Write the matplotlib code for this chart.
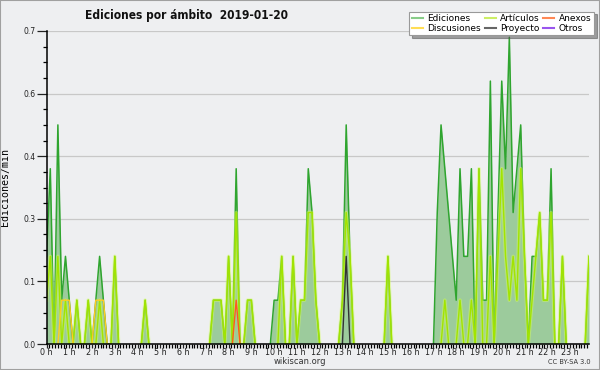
import numpy as np
import matplotlib
matplotlib.use('Agg')
import matplotlib.pyplot as plt
from matplotlib.lines import Line2D
from matplotlib.patches import Rectangle
from matplotlib.ticker import MultipleLocator

# edits per minute, one value per 10 minutes (00:00 .. 23:50), 12 values per row = 2 hours
ediciones = [
    0.2, 0.4, 0.0, 0.5, 0.1, 0.2, 0.1, 0.0, 0.1, 0.0, 0.0, 0.1,
    0.0, 0.1, 0.2, 0.1, 0.0, 0.0, 0.2, 0.0, 0.0, 0.0, 0.0, 0.0,
    0.0, 0.0, 0.1, 0.0, 0.0, 0.0, 0.0, 0.0, 0.0, 0.0, 0.0, 0.0,
    0.0, 0.0, 0.0, 0.0, 0.0, 0.0, 0.0, 0.0, 0.1, 0.1, 0.1, 0.0,
    0.2, 0.0, 0.4, 0.0, 0.0, 0.1, 0.1, 0.0, 0.0, 0.0, 0.0, 0.0,
    0.1, 0.1, 0.2, 0.0, 0.0, 0.2, 0.0, 0.1, 0.1, 0.4, 0.3, 0.1,
    0.0, 0.0, 0.0, 0.0, 0.0, 0.0, 0.1, 0.5, 0.2, 0.0, 0.0, 0.0,
    0.0, 0.0, 0.0, 0.0, 0.0, 0.0, 0.2, 0.0, 0.0, 0.0, 0.0, 0.0,
    0.0, 0.0, 0.0, 0.0, 0.0, 0.0, 0.0, 0.3, 0.5, 0.4, 0.3, 0.2,
    0.1, 0.4, 0.2, 0.2, 0.4, 0.0, 0.4, 0.1, 0.1, 0.6, 0.0, 0.3,
    0.6, 0.4, 0.7, 0.3, 0.4, 0.5, 0.2, 0.0, 0.2, 0.2, 0.3, 0.1,
    0.1, 0.4, 0.0, 0.0, 0.2, 0.0, 0.0, 0.0, 0.0, 0.0, 0.0, 0.2,
]
articulos = [
    0.1, 0.2, 0.0, 0.2, 0.0, 0.1, 0.0, 0.0, 0.1, 0.0, 0.0, 0.1,
    0.0, 0.0, 0.1, 0.0, 0.0, 0.0, 0.2, 0.0, 0.0, 0.0, 0.0, 0.0,
    0.0, 0.0, 0.1, 0.0, 0.0, 0.0, 0.0, 0.0, 0.0, 0.0, 0.0, 0.0,
    0.0, 0.0, 0.0, 0.0, 0.0, 0.0, 0.0, 0.0, 0.1, 0.1, 0.1, 0.0,
    0.2, 0.0, 0.3, 0.0, 0.0, 0.1, 0.1, 0.0, 0.0, 0.0, 0.0, 0.0,
    0.0, 0.0, 0.2, 0.0, 0.0, 0.2, 0.0, 0.1, 0.1, 0.3, 0.3, 0.1,
    0.0, 0.0, 0.0, 0.0, 0.0, 0.0, 0.1, 0.3, 0.2, 0.0, 0.0, 0.0,
    0.0, 0.0, 0.0, 0.0, 0.0, 0.0, 0.2, 0.0, 0.0, 0.0, 0.0, 0.0,
    0.0, 0.0, 0.0, 0.0, 0.0, 0.0, 0.0, 0.0, 0.0, 0.1, 0.0, 0.0,
    0.0, 0.1, 0.0, 0.0, 0.1, 0.0, 0.4, 0.0, 0.0, 0.2, 0.0, 0.2,
    0.4, 0.2, 0.1, 0.2, 0.1, 0.4, 0.2, 0.0, 0.1, 0.2, 0.3, 0.1,
    0.1, 0.3, 0.0, 0.0, 0.2, 0.0, 0.0, 0.0, 0.0, 0.0, 0.0, 0.2,
]
discusiones = [0.0] * 144
anexos = [0.0] * 144
proyecto = [0.0] * 144
otros = [0.0] * 144
# the few non-zero bins of the small series
discusiones_bins = {4: 0.1, 5: 0.1, 6: 0.1, 13: 0.1, 14: 0.1, 15: 0.1}
anexos_bins = {50: 0.1}
proyecto_bins = {79: 0.2}
for k, v in discusiones_bins.items():
    discusiones[k] = v
for k, v in anexos_bins.items():
    anexos[k] = v
for k, v in proyecto_bins.items():
    proyecto[k] = v

hours = np.arange(144) / 6.0
hour_labels = ['%d h' % h for h in range(24)]
ytick_vals = [0, 1/7, 2/7, 3/7, 4/7, 5/7]

bg = '#eeeff1'


def hide_flat(vals):
    # blank out the stretches that sit on the baseline so lines don't paint over the axis
    v = np.array(vals, dtype=float)
    out = v.copy()
    for i in range(len(v)):
        lo, hi = max(i - 1, 0), min(i + 2, len(v))
        if np.all(v[lo:hi] == 0):
            out[i] = np.nan
    return out


fig = plt.figure(figsize=(6, 3.7), dpi=100, facecolor=bg)
fig.patches.append(Rectangle((0, 0), 1, 1, transform=fig.transFigure, fill=False,
                             edgecolor='#a0a0a0', lw=1.5, zorder=0))
ax = fig.add_axes([46.5/600, 26/370, (589-46.5)/600, (344-31)/370], facecolor=bg)

ax.fill_between(hours, ediciones, 0, color='#9ccb9c', lw=0, zorder=1)
ax.plot(hours, hide_flat(ediciones), color='#2fa52f', lw=1.1, zorder=3)
ax.plot(hours, hide_flat(articulos), color='#d4ff55', lw=2.6, alpha=0.45, zorder=4)
ax.plot(hours, hide_flat(articulos), color='#a2e400', lw=1.0, zorder=4)
ax.plot(hours, hide_flat(discusiones), color='#ffcc22', lw=1.0, zorder=4)
ax.plot(hours, hide_flat(anexos), color='#ff5a1f', lw=1.0, zorder=4)
ax.plot(hours, hide_flat(proyecto), color='#333333', lw=1.0, zorder=4)
ax.plot(hours, hide_flat(otros), color='#9933ff', lw=1.0, zorder=4)

ax.set_xlim(0, 143/6)
ax.set_ylim(0, 5/7)
ax.set_xticks(range(24))
ax.set_xticklabels(hour_labels)
ax.xaxis.set_minor_locator(MultipleLocator(1/8))
ax.set_yticks(ytick_vals)
ax.set_yticklabels(['%.1f' % v for v in ytick_vals])
ax.yaxis.set_minor_locator(MultipleLocator(1/28))
ax.yaxis.grid(True, color='#c8c8c8', lw=0.9, zorder=0)
ax.set_axisbelow(True)

for s in ['top', 'right']:
    ax.spines[s].set_visible(False)
for s in ['left', 'bottom']:
    ax.spines[s].set_linewidth(1.1)
    ax.spines[s].set_zorder(5)
ax.tick_params(axis='y', which='major', length=7, width=0.9, labelsize=5.5, pad=1, colors='#222222')
ax.tick_params(axis='y', which='minor', length=3, width=0.9)
ax.tick_params(axis='x', which='major', length=3, width=0.9, labelsize=5.8, pad=0, colors='#222222')
ax.tick_params(axis='x', which='minor', length=3, width=0.9)

ax.set_ylabel('Ediciones/min', family='DejaVu Sans Mono', fontsize=7.2)
ax.yaxis.set_label_coords(-0.067, 0.5)

fig.text(85/600, 1 - 18.5/370, 'Ediciones por ámbito  2019-01-20', fontsize=8.6,
         fontweight='bold', fontstretch='condensed', ha='left', va='baseline', color='#111111')
fig.text(300/600, 1 - 362/370, 'wikiscan.org', fontsize=6, ha='center', va='center', color='#333333')
fig.text(569/600, 1 - 362.5/370, 'CC BY-SA 3.0', fontsize=4.8, ha='center', va='center', color='#333333')

handles = [
    Line2D([], [], color='#88cc88', lw=1.5),
    Line2D([], [], color='#ffdd55', lw=1.5),
    Line2D([], [], color='#ccee66', lw=1.5),
    Line2D([], [], color='#666666', lw=1.5),
    Line2D([], [], color='#ff8855', lw=1.5),
    Line2D([], [], color='#9955ee', lw=1.5),
]
labels = ['Ediciones', 'Discusiones', 'Artículos', 'Proyecto', 'Anexos', 'Otros']
leg = fig.legend(handles, labels, ncol=3, loc='upper right',
                 bbox_to_anchor=(594/600, 1 - 11.5/370), fontsize=6.5,
                 frameon=True, fancybox=False, shadow=True, edgecolor='#999999',
                 framealpha=1, borderpad=0.3, handlelength=1.2, handletextpad=0.5,
                 columnspacing=0.4, labelspacing=0.05, borderaxespad=0)
leg.get_frame().set_linewidth(0.8)

fig.savefig('out.png', dpi=100, facecolor=bg)
